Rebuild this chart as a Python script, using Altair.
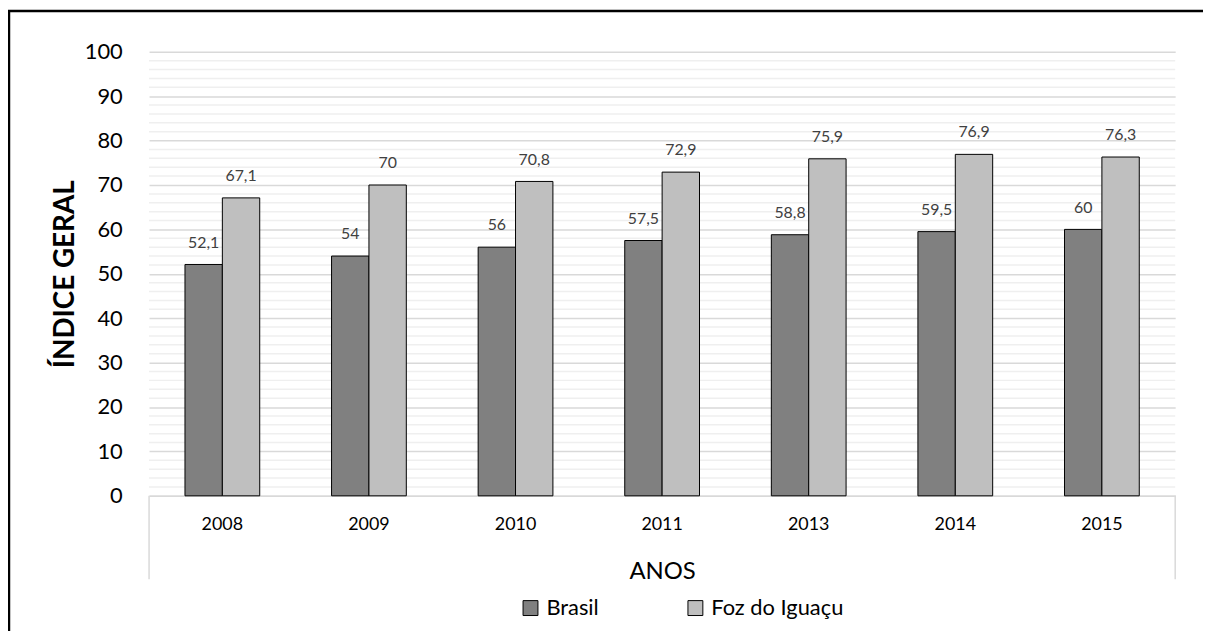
import altair as alt
import pandas as pd

# ---- data -------------------------------------------------------------
years = ["2008", "2009", "2010", "2011", "2013", "2014", "2015"]
brasil = [52.1, 54, 56, 57.5, 58.8, 59.5, 60]
foz = [67.1, 70, 70.8, 72.9, 75.9, 76.9, 76.3]
series_names = ["Brasil", "Foz do Iguaçu"]
series_colors = ["#808080", "#bfbfbf"]
major_ticks = [0, 10, 20, 30, 40, 50, 60, 70, 80, 90, 100]
minor_ticks = [v for v in range(0, 101, 2) if v % 10 != 0]

rows = []
for i, y in enumerate(years):
    for name, vals in zip(series_names, [brasil, foz]):
        v = vals[i]
        rows.append({"ano": y, "serie": name, "valor": v,
                     "rotulo": f"{v:g}".replace(".", ",")})
df = pd.DataFrame(rows)
minor_df = pd.DataFrame({"v": minor_ticks})
one = pd.DataFrame({"k": [0]})

FONT = "Lato"
W, H = 1033, 447

yscale = alt.Scale(domain=[0, 100], nice=False)
xscale = alt.Scale(paddingInner=0.49, paddingOuter=0.245)

minor = alt.Chart(minor_df).mark_rule(color="#efefef", strokeWidth=1.5).encode(
    y=alt.Y("v:Q", scale=yscale)
)

bars = alt.Chart(df).mark_bar(stroke="black", strokeWidth=1).encode(
    x=alt.X("ano:N", sort=years, scale=xscale,
            axis=alt.Axis(title="ANOS", labelAngle=0, labelFontSize=18,
                          labelColor="black", labelFont=FONT,
                          labelBaseline="middle", labelPadding=29,
                          ticks=False, domainColor="#d9d9d9", domainWidth=1.5,
                          titleFont=FONT, titleFontSize=24, titleFontWeight="normal",
                          titleColor="black", titleY=76, titleBaseline="middle")),
    xOffset=alt.XOffset("serie:N", sort=series_names,
                        scale=alt.Scale(paddingInner=0, paddingOuter=0)),
    y=alt.Y("valor:Q", scale=yscale,
            axis=alt.Axis(title="ÍNDICE GERAL", values=major_ticks,
                          labelFontSize=22, labelColor="black", labelFont=FONT,
                          labelPadding=27, ticks=False, domain=False,
                          gridColor="#d9d9d9", gridWidth=1.5,
                          titleFont=FONT, titleFontSize=28, titleFontWeight="bold",
                          titleColor="black", titleX=-84, titleY=H / 2,
                          titleAngle=270, titleAlign="center",
                          titleBaseline="middle")),
    color=alt.Color("serie:N", sort=series_names,
                    scale=alt.Scale(domain=series_names, range=series_colors),
                    legend=alt.Legend(title=None, orient="none", direction="horizontal",
                                      legendX=373, legendY=549,
                                      symbolType="square", symbolSize=225,
                                      symbolStrokeColor="black", symbolStrokeWidth=1,
                                      symbolOpacity=1,
                                      labelFont=FONT, labelFontSize=22,
                                      labelColor="black", labelOffset=5,
                                      columnPadding=86)),
)

labels = alt.Chart(df).mark_text(baseline="bottom", dy=-14, fontSize=16,
                                 font=FONT, color="#404040").encode(
    x=alt.X("ano:N", sort=years, scale=xscale),
    xOffset=alt.XOffset("serie:N", sort=series_names),
    y=alt.Y("valor:Q", scale=yscale),
    text="rotulo:N",
)

box_left = alt.Chart(one).mark_rule(color="#d9d9d9", strokeWidth=1.5).encode(
    x=alt.value(0), y=alt.value(H), y2=alt.value(H + 84))
box_right = alt.Chart(one).mark_rule(color="#d9d9d9", strokeWidth=1.5).encode(
    x=alt.value(W), y=alt.value(H), y2=alt.value(H + 84))

border_left = alt.Chart(one).mark_rule(color="black", strokeWidth=2.5).encode(
    x=alt.value(-141), y=alt.value(-42), y2=alt.value(600))
border_top = alt.Chart(one).mark_rule(color="black", strokeWidth=2.5).encode(
    x=alt.value(-142), x2=alt.value(1100), y=alt.value(-41))

chart = alt.layer(minor, bars, labels, box_left, box_right, border_left, border_top).properties(
    width=W, height=H,
    padding={"left": 142, "top": 42, "right": 28, "bottom": 134},
    autosize=alt.AutoSizeParams(type="none"),
    background="white",
).configure_view(stroke=None)

chart.save("out.html", embed_options={"renderer": "svg", "actions": False})
